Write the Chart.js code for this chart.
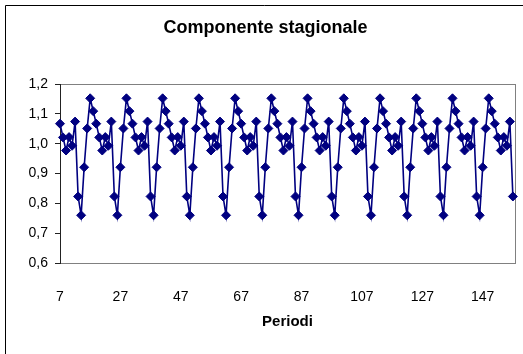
<!DOCTYPE html>
<html>
<head>
<meta charset="utf-8">
<script src="https://cdn.jsdelivr.net/npm/chart.js@4.4.1/dist/chart.umd.min.js"></script>
<style>
  html, body { margin: 0; padding: 0; background: #fff; }
  #wrap { width: 523px; height: 354px; position: relative; }
</style>
</head>
<body>
<div id="wrap"><canvas id="myChart"></canvas></div>
<script>
const chartTitle = "Componente stagionale";
const xTitle = "Periodi";

// first period on the x axis, each value is one period after the other
const firstPeriod = 7;

const seasonal = [
  1.067, 1.021, 0.977, 1.022, 0.993, 1.074, 0.823, 0.760, 0.921, 1.051, 1.152, 1.109,
  1.067, 1.021, 0.977, 1.022, 0.993, 1.074, 0.823, 0.760, 0.921, 1.051, 1.152, 1.109,
  1.067, 1.021, 0.977, 1.022, 0.993, 1.074, 0.823, 0.760, 0.921, 1.051, 1.152, 1.109,
  1.067, 1.021, 0.977, 1.022, 0.993, 1.074, 0.823, 0.760, 0.921, 1.051, 1.152, 1.109,
  1.067, 1.021, 0.977, 1.022, 0.993, 1.074, 0.823, 0.760, 0.921, 1.051, 1.152, 1.109,
  1.067, 1.021, 0.977, 1.022, 0.993, 1.074, 0.823, 0.760, 0.921, 1.051, 1.152, 1.109,
  1.067, 1.021, 0.977, 1.022, 0.993, 1.074, 0.823, 0.760, 0.921, 1.051, 1.152, 1.109,
  1.067, 1.021, 0.977, 1.022, 0.993, 1.074, 0.823, 0.760, 0.921, 1.051, 1.152, 1.109,
  1.067, 1.021, 0.977, 1.022, 0.993, 1.074, 0.823, 0.760, 0.921, 1.051, 1.152, 1.109,
  1.067, 1.021, 0.977, 1.022, 0.993, 1.074, 0.823, 0.760, 0.921, 1.051, 1.152, 1.109,
  1.067, 1.021, 0.977, 1.022, 0.993, 1.074, 0.823, 0.760, 0.921, 1.051, 1.152, 1.109,
  1.067, 1.021, 0.977, 1.022, 0.993, 1.074, 0.823, 0.760, 0.921, 1.051, 1.152, 1.109,
  1.067, 1.021, 0.977, 1.022, 0.993, 1.074, 0.823,
];

const xTicks = [7, 27, 47, 67, 87, 107, 127, 147];
const yTicks = [0.6, 0.7, 0.8, 0.9, 1.0, 1.1, 1.2];

const points = seasonal.map((v, i) => ({ x: firstPeriod + i, y: v }));

const fontFamily = "'Liberation Sans', Arial, sans-serif";
const navy = "#000080";

// white background, outer frame and grey plot frame (Excel look)
const framePlugin = {
  id: "frames",
  beforeDraw(chart) {
    const ctx = chart.ctx;
    const area = chart.chartArea;
    ctx.save();
    ctx.fillStyle = "#fff";
    ctx.fillRect(0, 0, chart.width, chart.height);

    ctx.strokeStyle = "#000";
    ctx.lineWidth = 1;
    ctx.beginPath();
    ctx.moveTo(5.5, chart.height + 1);
    ctx.lineTo(5.5, 5.5);
    ctx.lineTo(chart.width + 1, 5.5);
    ctx.stroke();

    ctx.strokeStyle = "#808080";
    ctx.strokeRect(
      Math.round(area.left) + 0.5,
      Math.round(area.top) + 0.5,
      Math.round(area.right - area.left),
      Math.round(area.bottom - area.top)
    );
    ctx.restore();
  },
};

const ctx = document.getElementById("myChart").getContext("2d");

const chart = new Chart(ctx, {
  type: "line",
  data: {
    datasets: [
      {
        data: points,
        borderColor: navy,
        borderWidth: 1.6,
        backgroundColor: navy,
        pointStyle: "rectRot",
        pointRadius: 4.5,
        pointBorderWidth: 1,
        pointBorderColor: navy,
        pointBackgroundColor: navy,
        tension: 0,
        fill: false,
        clip: false,
      },
    ],
  },
  options: {
    responsive: true,
    maintainAspectRatio: false,
    animation: false,
    layout: {
      padding: { left: 16, right: 8, top: 0, bottom: 0 },
    },
    plugins: {
      legend: { display: false },
      tooltip: { enabled: false },
      title: {
        display: true,
        text: chartTitle,
        color: "#000",
        font: { family: fontFamily, size: 18, weight: "bold", lineHeight: 1.2 },
        padding: { top: 17, bottom: 45.4 },
      },
    },
    scales: {
      x: {
        type: "linear",
        min: 7,
        max: 157.7,
        grid: { display: false },
        border: { display: false },
        afterBuildTicks: (scale) => {
          scale.ticks = xTicks.map((v) => ({ value: v }));
        },
        afterFit: (scale) => {
          scale.height = 91;
        },
        ticks: {
          color: "#000",
          padding: 18,
          maxRotation: 0,
          font: { family: fontFamily, size: 14, lineHeight: 1.2 },
          callback: (v) => String(v),
        },
        title: {
          display: true,
          text: xTitle,
          color: "#000",
          font: { family: fontFamily, size: 15, weight: "bold", lineHeight: 1.2 },
          padding: { top: 0, bottom: 23 },
        },
      },
      y: {
        min: 0.6,
        max: 1.2,
        grid: {
          display: true,
          drawOnChartArea: false,
          drawTicks: true,
          tickLength: 5,
          color: "#222",
        },
        border: { display: true, color: "#222", width: 1 },
        afterBuildTicks: (scale) => {
          scale.ticks = yTicks.map((v) => ({ value: v }));
        },
        afterFit: (scale) => {
          scale.width = 44;
        },
        ticks: {
          color: "#000",
          padding: 7,
          font: { family: fontFamily, size: 14, lineHeight: 1.2 },
          callback: (v) => v.toFixed(1).replace(".", ","),
        },
      },
    },
  },
  plugins: [framePlugin],
});
</script>
</body>
</html>
